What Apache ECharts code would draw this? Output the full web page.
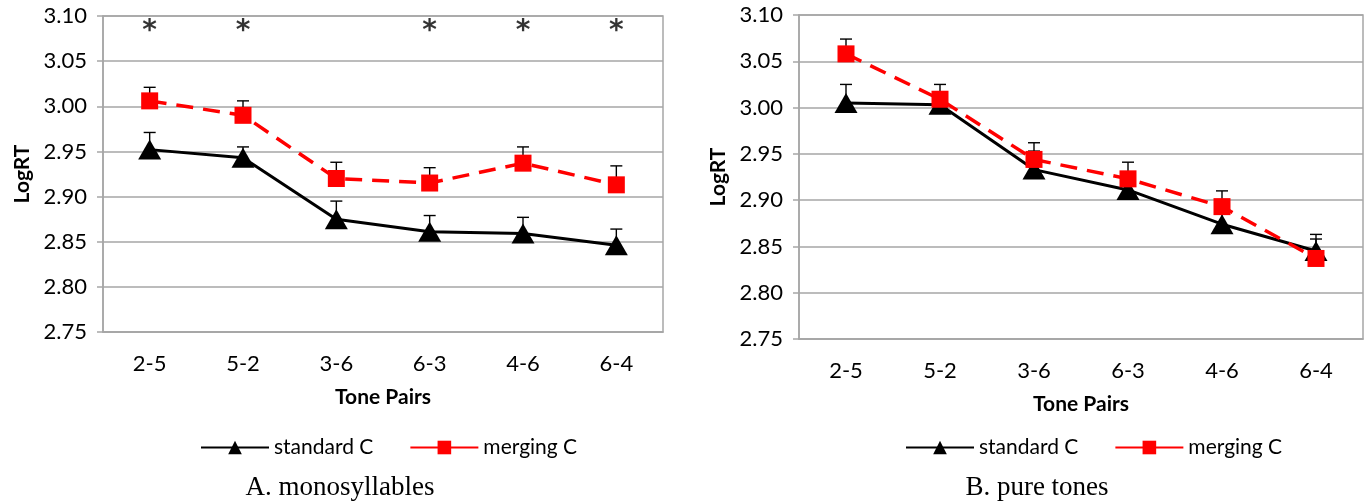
<!DOCTYPE html>
<html lang="en">
<head>
<meta charset="UTF-8">
<title>LogRT by tone pairs</title>
<script src="https://cdn.jsdelivr.net/npm/echarts@6/dist/echarts.min.js"></script>
<style>
  html, body { margin: 0; padding: 0; background: #fff; }
  #main { width: 1371px; height: 502px; }
</style>
</head>
<body>
<div id="main"></div>
<script>
// tone pairs on the x axis
var tonePairs = ['2-5', '5-2', '3-6', '6-3', '4-6', '6-4'];
var yTicks = { min: 2.75, max: 3.10, step: 0.05 };

// A. monosyllables: means and upper ends of the error bars
var monoStd = [2.952, 2.943, 2.875, 2.861, 2.859, 2.846];
var monoStdHi = [2.971, 2.955, 2.895, 2.879, 2.877, 2.864];
var monoMerge = [3.006, 2.990, 2.920, 2.915, 2.937, 2.913];
var monoMergeHi = [3.021, 3.006, 2.938, 2.932, 2.955, 2.934];
var monoSig = ['*', '*', '', '*', '*', '*'];

// B. pure tones
var pureStd = [3.005, 3.003, 2.933, 2.911, 2.874, 2.845];
var pureStdHi = [3.025, 3.016, 2.953, 2.930, 2.886, 2.863];
var pureMerge = [3.058, 3.009, 2.944, 2.923, 2.893, 2.837];
var pureMergeHi = [3.074, 3.025, 2.962, 2.941, 2.910, 2.858];

var SANS = 'Lato, "Liberation Sans", sans-serif';
var SERIF = '"Liberation Serif", "DejaVu Serif", serif';
var GRID_GRAY = '#a6a6a6';

var chart = echarts.init(document.getElementById('main'));

// error bar: vertical stroke from mean up to the top value with a small cap
function errBar(params, api) {
  var idx = api.value(0);
  var p0 = api.coord([idx, api.value(1)]);
  var p1 = api.coord([idx, api.value(2)]);
  var style = { stroke: '#000', lineWidth: 1.4 };
  return {
    type: 'group',
    children: [
      { type: 'line', shape: { x1: p0[0], y1: p0[1], x2: p1[0], y2: p1[1] }, style: style },
      { type: 'line', shape: { x1: p1[0] - 6, y1: p1[1], x2: p1[0] + 6, y2: p1[1] }, style: style }
    ]
  };
}

function errData(mean, hi) {
  return mean.map(function (m, i) { return [i, m, hi[i]]; });
}

function xAxisFor(gi) {
  return {
    type: 'category', gridIndex: gi, data: tonePairs,
    name: 'Tone Pairs', nameLocation: 'middle', nameGap: 55,
    nameTextStyle: { fontFamily: SANS, fontWeight: 'bold', fontSize: 21, color: '#000' },
    axisLine: { lineStyle: { color: GRID_GRAY, width: 1.5 } },
    axisTick: { length: 8, lineStyle: { color: GRID_GRAY, width: 1.5 } },
    axisLabel: { fontFamily: SANS, fontSize: 22, color: '#000', margin: 21 },
    splitLine: { show: false }
  };
}

function yAxisFor(gi) {
  return {
    type: 'value', gridIndex: gi,
    min: yTicks.min, max: yTicks.max, interval: yTicks.step,
    name: 'LogRT', nameLocation: 'middle', nameRotate: 90, nameGap: 70,
    nameTextStyle: { fontFamily: SANS, fontWeight: 'bold', fontSize: 21, color: '#000' },
    axisLine: { show: true, lineStyle: { color: GRID_GRAY, width: 1.5 } },
    axisTick: { show: true, length: 6, lineStyle: { color: GRID_GRAY, width: 1.5 } },
    axisLabel: {
      fontFamily: SANS, fontSize: 22, color: '#000', margin: 16,
      formatter: function (v) { return v.toFixed(2); }
    },
    splitLine: { lineStyle: { color: GRID_GRAY, width: 1.5 } }
  };
}

function lineSeries(name, gi, data) {
  var isStd = name === 'standard C';
  return {
    name: name, type: 'line', xAxisIndex: gi, yAxisIndex: gi, data: data,
    symbol: isStd ? 'triangle' : 'rect',
    symbolSize: isStd ? [23, 20] : 17,
    itemStyle: { color: isStd ? '#000' : '#ff0000' },
    lineStyle: { color: isStd ? '#000' : '#ff0000', width: isStd ? 3 : 3.5, type: isStd ? 'solid' : [17, 10] },
    z: 3, animation: false
  };
}

function errSeries(gi, mean, hi) {
  return {
    type: 'custom', xAxisIndex: gi, yAxisIndex: gi,
    renderItem: errBar, data: errData(mean, hi), z: 2, silent: true, animation: false
  };
}

function legendFor(left) {
  return {
    left: left, top: 432, itemWidth: 68, itemHeight: 17, itemGap: 36,
    data: ['standard C', 'merging C'],
    lineStyle: { type: 'solid' },
    textStyle: { fontFamily: SANS, fontSize: 21, color: '#000' }
  };
}

var sigData = monoSig.map(function (s, i) { return s ? [i, 3.083, s] : null; })
  .filter(function (d) { return d; });

chart.setOption({
  animation: false,
  textStyle: { fontFamily: SANS },
  title: [
    { text: 'A. monosyllables', left: 335, top: 469, textAlign: 'center',
      textStyle: { fontFamily: SERIF, fontWeight: 'normal', fontSize: 27, color: '#000' } },
    { text: 'B. pure tones', left: 1032, top: 469, textAlign: 'center',
      textStyle: { fontFamily: SERIF, fontWeight: 'normal', fontSize: 27, color: '#000' } }
  ],
  legend: [legendFor(195), legendFor(900)],
  grid: [
    { left: 103, top: 16, width: 560, height: 316, show: true, borderColor: GRID_GRAY, borderWidth: 1.5 },
    { left: 799, top: 15, width: 564, height: 324, show: true, borderColor: GRID_GRAY, borderWidth: 1.5 }
  ],
  xAxis: [xAxisFor(0), xAxisFor(1)],
  yAxis: [yAxisFor(0), yAxisFor(1)],
  series: [
    errSeries(0, monoStd, monoStdHi),
    errSeries(0, monoMerge, monoMergeHi),
    lineSeries('standard C', 0, monoStd),
    lineSeries('merging C', 0, monoMerge),
    errSeries(1, pureStd, pureStdHi),
    errSeries(1, pureMerge, pureMergeHi),
    lineSeries('standard C', 1, pureStd),
    lineSeries('merging C', 1, pureMerge),
    {
      type: 'scatter', xAxisIndex: 0, yAxisIndex: 0, symbolSize: 0, data: sigData,
      label: { show: true, position: 'inside', formatter: function (p) { return p.value[2]; },
        fontFamily: '"DejaVu Sans", sans-serif', fontSize: 28, fontWeight: 'bold', color: '#000' },
      silent: true, animation: false
    }
  ]
});
</script>
</body>
</html>
